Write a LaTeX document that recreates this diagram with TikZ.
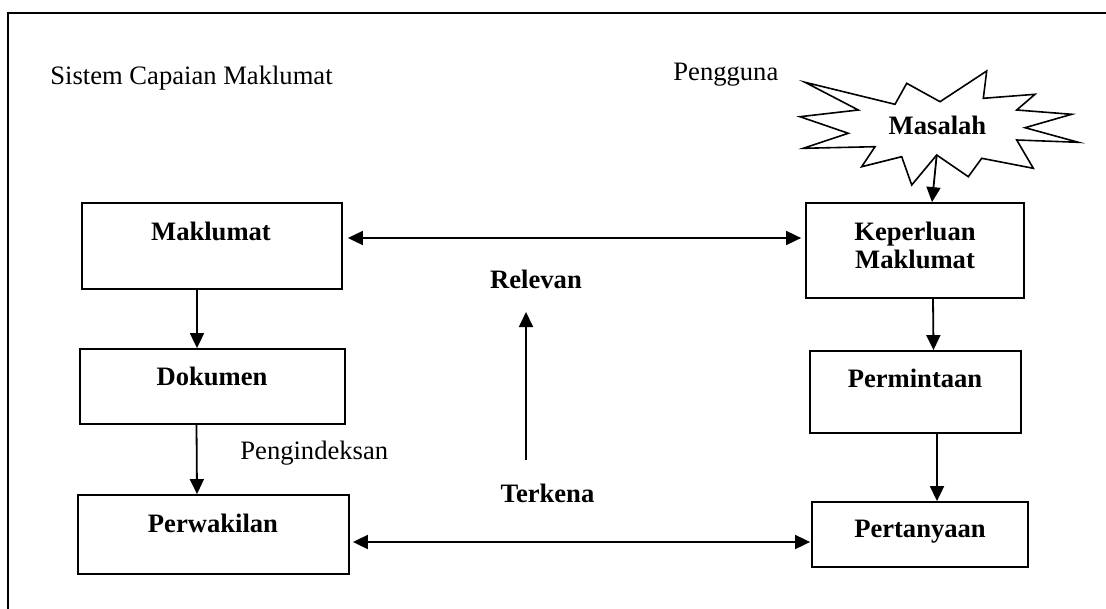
\documentclass[tikz,border=0pt]{standalone}
\usepackage{fontspec}
\setmainfont{Liberation Serif}
\usetikzlibrary{arrows.meta}
\begin{document}
\begin{tikzpicture}[x=0.5pt,y=-0.5pt,
  txt/.style={inner sep=0pt,font=\fontsize{13.3}{13.5}\selectfont},
  btxt/.style={txt,font=\fontsize{13.3}{14}\selectfont\bfseries},
  box/.style={draw,line width=0.9pt,inner sep=0pt},
  arr/.style={line width=0.9pt,-{Triangle[length=7.5pt,width=7pt]}},
  darr/.style={line width=0.9pt,{Triangle[length=7.5pt,width=7pt]}-{Triangle[length=7.5pt,width=7pt]}}]
\useasboundingbox (0,0) rectangle (1106,609);
% frame
\draw[line width=0.8pt] (8,609) -- (8,13) -- (1106,13);
% headings
\node[txt,anchor=base west] (sys) at (50,85) {Sistem Capaian Maklumat};
\node[txt,anchor=base west] (user) at (673,81) {Pengguna};
% boxes
\node[box,minimum width=130pt,minimum height=43pt] (mak) at (212,246) {};
\node[box,minimum width=132.5pt,minimum height=37.5pt] (dok) at (212.5,386.5) {};
\node[box,minimum width=135.5pt,minimum height=39.5pt] (per) at (213.5,534.5) {};
\node[box,minimum width=109pt,minimum height=47.5pt] (kep) at (915,250.5) {};
\node[box,minimum width=105.5pt,minimum height=41pt] (pmt) at (915.5,392) {};
\node[box,minimum width=108pt,minimum height=32.5pt] (ptn) at (920,534.5) {};
% box labels
\node[btxt,anchor=base] (makT) at (211,240) {Maklumat};
\node[btxt,anchor=base] (dokT) at (212,385) {Dokumen};
\node[btxt,anchor=base] (perT) at (213,532) {Perwakilan};
\node[btxt,align=center] (kepT) at (915,245) {Keperluan\\Maklumat};
\node[btxt,anchor=base] (pmtT) at (915,387) {Permintaan};
\node[btxt,anchor=base] (ptnT) at (920,537) {Pertanyaan};
% burst
\draw[line width=0.8pt] (805,82.3) -- (895,104.3) -- (906.7,83.3) -- (940,101.7) -- (986.7,71)
  -- (983.3,98.3) -- (1035,94.3) -- (1016.7,110) -- (1071.7,114.3) -- (1025,127.7)
  -- (1078.3,142.3) -- (1016.7,140) -- (1033.3,168.3) -- (981.7,158.3) -- (968.3,176.7)
  -- (936.7,155) -- (911.7,185) -- (901.7,156.7) -- (861.7,166.7) -- (875,146.7)
  -- (803.3,148.3) -- (848.3,133.3) -- (800,116.7) -- (858.3,110) -- cycle;
\coordinate (mstart) at (936.7,155);
\node[btxt,anchor=base] (mas) at (937.5,135) {Masalah};
% other labels
\node[txt,anchor=base west] (idx) at (240,459) {Pengindeksan};
\node[btxt,anchor=base] (rel) at (536,288) {Relevan};
\node[btxt,anchor=base] (ter) at (547.5,502) {Terkena};
\coordinate (rb) at (526,460);
\coordinate (rt) at (526,312);
% connectors
\draw[arr] (mstart) -- ([xshift=8.5pt]kep.north);
\draw[arr] ([xshift=-7.5pt]mak.south) -- ([xshift=-7.75pt]dok.north);
\draw[arr] ([xshift=-8pt]dok.south) -- ([xshift=-8.25pt]per.north);
\draw[arr] ([xshift=9pt]kep.south) -- ([xshift=9pt]pmt.north);
\draw[arr] ([xshift=10.75pt]pmt.south) -- ([xshift=8.5pt]ptn.north);
\draw[arr] (rb) -- (rt);
\draw[darr] ([xshift=2.5pt,yshift=4pt]mak.east) -- ([xshift=-2pt,yshift=6.25pt]kep.west);
\draw[darr] ([xshift=1.5pt,yshift=-3.75pt]per.east) -- ([xshift=-0.5pt,yshift=-3.75pt]ptn.west);
\end{tikzpicture}
\end{document}
